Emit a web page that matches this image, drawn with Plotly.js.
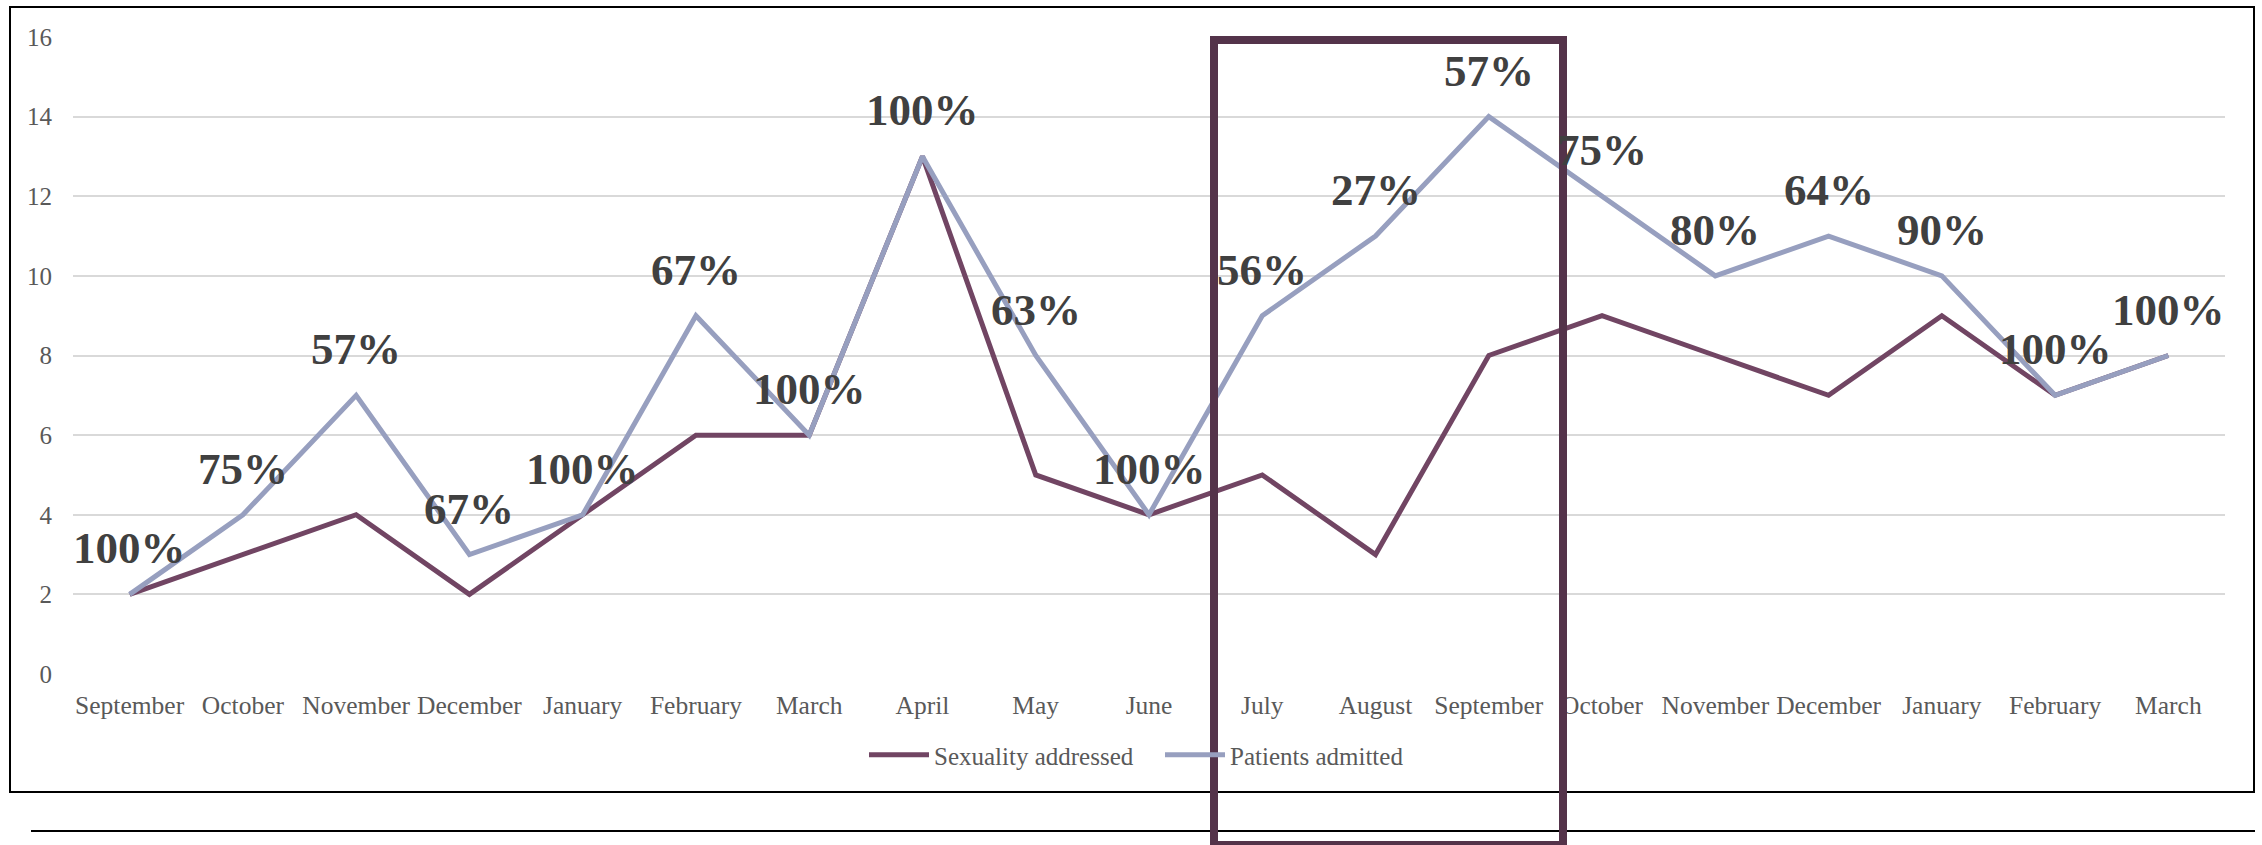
<!DOCTYPE html>
<html>
<head>
<meta charset="utf-8">
<script src="https://cdn.plot.ly/plotly-3.0.1.min.js"></script>
<style>html,body{margin:0;padding:0;background:#fff;}#chart{width:2262px;height:845px;}</style>
</head>
<body>
<div id="chart"></div>
<script>
const months = ["September","October","November","December","January","February","March","April","May","June","July","August","September","October","November","December","January","February","March"];
const sexualityAddressed = [2,3,4,2,4,6,6,13,5,4,5,3,8,9,8,7,9,7,8];
const patientsAdmitted = [2,4,7,3,4,9,6,13,8,4,9,11,14,12,10,11,10,7,8];
const percentLabels = ["100%","75%","57%","67%","100%","67%","100%","100%","63%","100%","56%","27%","57%","75%","80%","64%","90%","100%","100%"];
const yTicks = [0,2,4,6,8,10,12,14,16];

const W = 2262, H = 845;
const L = 73, R = 2225, T = 37, B = 674;
const px = v => (v - L) / (R - L);
const py = v => (B - v) / (B - T);

const idx = months.map((m, i) => i);
const serif = "Liberation Serif, Times New Roman, serif";

const traces = [
  {x: idx, y: sexualityAddressed, name: "Sexuality addressed", mode: "lines", type: "scatter",
   line: {color: "#714563", width: 5}},
  {x: idx, y: patientsAdmitted, name: "Patients admitted", mode: "lines", type: "scatter",
   line: {color: "#979FBF", width: 5}}
];

const annotations = idx.map(i => ({
  x: i, y: patientsAdmitted[i], xref: "x", yref: "y", text: percentLabels[i],
  showarrow: false, yanchor: "middle", yshift: 46,
  font: {family: serif, size: 45, color: "#404040", weight: "bold"}
}));

const shapes = [
  {type: "rect", xref: "paper", yref: "paper", x0: px(10), x1: px(2254), y0: py(792), y1: py(7),
   line: {color: "#000", width: 2}, layer: "below"},
  {type: "line", xref: "paper", yref: "paper", x0: px(31), x1: px(2255), y0: py(831), y1: py(831),
   line: {color: "#000", width: 2}},
  {type: "rect", xref: "paper", yref: "paper", x0: px(1214), x1: px(1563), y0: py(845), y1: py(40),
   line: {color: "#54334A", width: 8}, layer: "above"}
];

const layout = {
  width: W, height: H,
  margin: {l: L, r: W - R, t: T, b: H - B, pad: 0},
  paper_bgcolor: "#fff", plot_bgcolor: "#fff",
  showlegend: true,
  legend: {orientation: "h", x: px(864), xanchor: "left", y: py(755), yanchor: "middle",
           entrywidth: 221, entrywidthmode: "pixels",
           font: {family: serif, size: 25, color: "#595959"}, itemwidth: 60, bgcolor: "rgba(0,0,0,0)"},
  xaxis: {range: [-0.5, 18.5], tickvals: idx, ticktext: months, showgrid: false, zeroline: false,
          showline: false, ticks: "", ticklabelstandoff: 13,
          tickfont: {family: serif, size: 25.5, color: "#595959"}, fixedrange: true},
  yaxis: {range: [0, 16], tickvals: yTicks, showgrid: true, gridcolor: "#d9d9d9", gridwidth: 2,
          zeroline: false, showline: false, ticks: "", ticklabelstandoff: 20,
          tickfont: {family: serif, size: 25, color: "#595959"}, fixedrange: true},
  annotations: annotations,
  shapes: shapes
};

Plotly.newPlot("chart", traces, layout, {displayModeBar: false, staticPlot: true});
</script>
</body>
</html>
